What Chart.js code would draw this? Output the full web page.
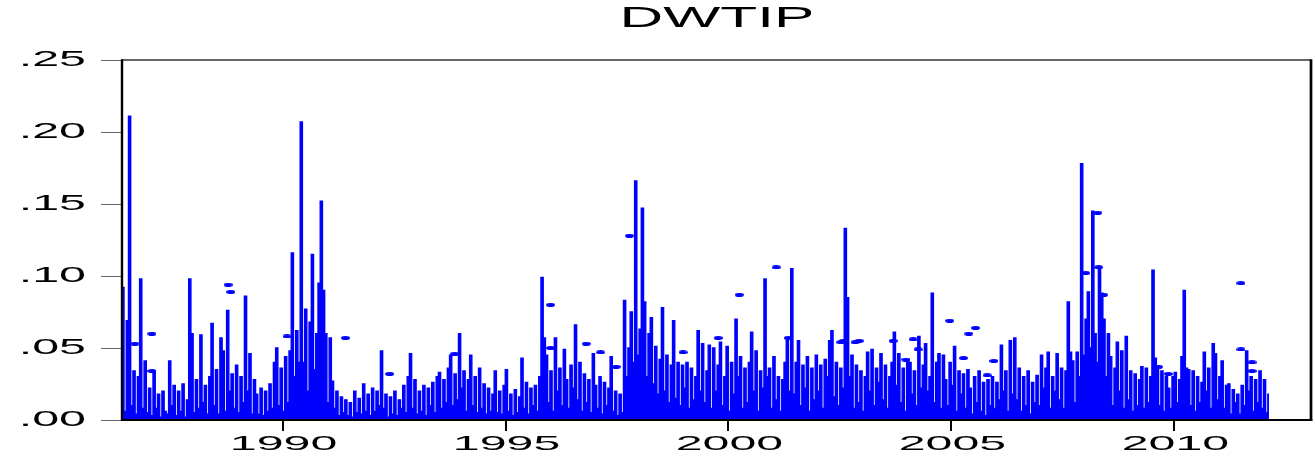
<!DOCTYPE html>
<html>
<head>
<meta charset="utf-8">
<title>DWTIP</title>
<script src="https://cdn.jsdelivr.net/npm/chart.js@4.4.1/dist/chart.umd.min.js"></script>
<style>
  html, body { margin: 0; padding: 0; background: #fff; }
  #wrap { width: 1315px; height: 462px; }
</style>
</head>
<body>
<div id="wrap"><canvas id="dwtip" width="1315" height="462"></canvas></div>
<script>
// DWTIP, one reading every 0.05 yr starting 1986.42, values in thousandths
const startYear = 1986.42;
const stepYears = 0.05;
const dwtip = [
  // 1986.42
  92, 6, 69, 211, 10, 34, 4, 30, 98, 8,     41, 5, 22, 3, 34, 8, 18, 2, 20, 6,
  // 1987.42
  4, 41, 10, 24, 3, 20, 6, 25, 2, 14,       98, 60, 5, 28, 8, 59, 12, 24, 4, 30,
  // 1988.42
  67, 10, 35, 4, 57, 48, 6, 76, 20, 32,     8, 38, 5, 30, 12, 86, 20, 46, 4, 28,
  // 1989.42
  18, 4, 22, 3, 20, 6, 25, 8, 40, 50,       10, 36, 6, 44, 12, 48, 116, 30, 62, 40,
  // 1990.42
  207, 40, 77, 20, 68, 115, 35, 60, 95, 152, 90, 60, 12, 57, 27, 8, 20, 3, 16, 5,
  // 1991.42
  14, 3, 12, 2, 20, 5, 15, 4, 25, 6,        18, 3, 22, 6, 20, 10, 48, 8, 18, 2,
  // 1992.42
  16, 4, 20, 3, 14, 8, 24, 5, 30, 46,       8, 28, 4, 20, 6, 24, 3, 22, 10, 26,
  // 1993.42
  5, 30, 33, 8, 28, 12, 36, 45, 10, 32,     14, 60, 22, 34, 6, 28, 45, 10, 30, 5,
  // 1994.42
  36, 8, 25, 4, 22, 6, 18, 34, 5, 20,       4, 24, 35, 6, 18, 3, 21, 5, 16, 43,
  // 1995.42
  8, 26, 4, 22, 10, 24, 6, 30, 99, 57,      45, 12, 34, 6, 57, 20, 36, 10, 49, 28,
  // 1996.42
  8, 38, 22, 66, 14, 40, 6, 32, 12, 28,     5, 46, 24, 8, 30, 4, 26, 10, 22, 44,
  // 1997.42
  6, 20, 3, 18, 5, 83, 30, 50, 75, 40,      166, 45, 63, 147, 82, 30, 60, 71, 25, 51,
  // 1998.42
  18, 42, 78, 20, 45, 12, 38, 69, 15, 40,   10, 38, 22, 40, 8, 36, 14, 30, 62, 20,
  // 1999.42
  53, 12, 34, 52, 8, 50, 20, 38, 54, 10,    30, 51, 6, 40, 18, 70, 30, 44, 8, 36,
  // 2000.42
  12, 40, 61, 20, 48, 6, 34, 22, 98, 30,    36, 8, 44, 14, 30, 6, 28, 40, 55, 20,
  // 2001.42
  105, 18, 40, 55, 10, 38, 22, 44, 6, 36,   14, 45, 20, 38, 8, 42, 30, 55, 62, 16,
  // 2002.42
  40, 10, 36, 22, 133, 85, 30, 45, 8, 38,   12, 34, 6, 30, 47, 20, 49, 10, 36, 26,
  // 2003.42
  46, 14, 38, 8, 30, 40, 61, 24, 46, 12,    36, 6, 42, 40, 18, 34, 10, 58, 22, 38,
  // 2004.42
  53, 20, 30, 88, 12, 40, 46, 8, 45, 28,    10, 40, 24, 51, 6, 34, 18, 32, 8, 35,
  // 2005.42
  22, 4, 30, 12, 34, 6, 26, 3, 28, 10,      30, 8, 26, 14, 52, 20, 34, 6, 55, 18,
  // 2006.42
  57, 14, 36, 6, 30, 10, 34, 4, 26, 12,     31, 10, 45, 22, 36, 47, 8, 30, 20, 46,
  // 2007.42
  14, 36, 8, 34, 82, 47, 41, 12, 47, 30,    178, 45, 70, 89, 50, 145, 60, 40, 105, 88,
  // 2008.42
  70, 30, 60, 44, 10, 36, 54, 20, 48, 8,    58, 14, 34, 6, 32, 10, 28, 37, 8, 36,
  // 2009.42
  12, 30, 104, 43, 35, 10, 34, 6, 30, 22,   8, 30, 33, 12, 28, 44, 90, 36, 35, 10,
  // 2010.42
  34, 6, 30, 12, 26, 47, 20, 36, 8, 53,     46, 14, 30, 41, 8, 24, 25, 4, 21, 12,
  // 2011.42
  18, 4, 24, 10, 48, 20, 30, 6, 28, 12,     34, 8, 28, 5, 18
];

// lone observations (no neighbours on either side), drawn as short dashes
const dashYears = [
  1986.69, 1987.07, 1987.07, 1988.78, 1988.84, 1990.10, 1991.41, 1992.40,
  1993.86, 1996.01, 1996.01, 1996.81, 1997.13, 1997.48, 1997.78, 1998.98,
  1999.77, 2000.24, 2001.07, 2001.34, 2002.52, 2002.58, 2002.84, 2002.93,
  2003.69, 2003.98, 2004.14, 2004.25, 2004.96, 2005.27, 2005.39, 2005.54,
  2005.80, 2005.95, 2008.01, 2008.28, 2008.30, 2008.41, 2009.64, 2009.86,
  2011.49, 2011.49, 2011.74, 2011.74
];
const dashValues = [
  0.053, 0.060, 0.034, 0.094, 0.089, 0.058, 0.057, 0.032,
  0.046, 0.080, 0.050, 0.053, 0.047, 0.037, 0.128, 0.047,
  0.057, 0.087, 0.106, 0.057, 0.054, 0.055, 0.054, 0.055,
  0.055, 0.042, 0.056, 0.049, 0.069, 0.043, 0.060, 0.064,
  0.031, 0.041, 0.102, 0.144, 0.106, 0.087, 0.037, 0.032,
  0.095, 0.049, 0.040, 0.034
];

const yearTicks = [1990, 1995, 2000, 2005, 2010];
const yTicks = [0, 0.05, 0.10, 0.15, 0.20, 0.25];
const yTickLabels = ['.00', '.05', '.10', '.15', '.20', '.25'];
const seriesTitle = 'DWTIP';

const BLUE = '#0000ff';
const FONT = '"Liberation Sans", Arial, Helvetica, sans-serif';

const linePoints = dwtip.map((v, i) => ({
  x: startYear + i * stepYears,
  y: v === null ? null : v / 1000
}));
const dashPoints = dashYears.map((yr, i) => ({ x: yr, y: dashValues[i] }));

// small flat oval used as the marker of a lone observation
const dashMark = document.createElement('canvas');
dashMark.width = 9;
dashMark.height = 4;
(function () {
  const dc = dashMark.getContext('2d');
  dc.fillStyle = BLUE;
  dc.beginPath();
  dc.ellipse(4.5, 2, 4.5, 2, 0, 0, Math.PI * 2);
  dc.fill();
})();

// wide, horizontally stretched lettering
function wideText(ctx, text, x, y, size, sx, align) {
  ctx.save();
  ctx.font = size + 'px ' + FONT;
  ctx.fillStyle = '#000';
  ctx.textAlign = align;
  ctx.textBaseline = 'alphabetic';
  ctx.translate(x, y);
  ctx.scale(sx, 1);
  ctx.fillText(text, 0, 0);
  ctx.restore();
}

const frameAndLabels = {
  id: 'frameAndLabels',
  afterDraw(chart) {
    const ctx = chart.ctx;
    const { left, right, top, bottom } = chart.chartArea;
    const xs = chart.scales.x;
    const ys = chart.scales.y;

    ctx.save();
    ctx.strokeStyle = '#333';
    ctx.lineWidth = 1.3;
    ctx.beginPath();
    ctx.moveTo(left, top);
    ctx.lineTo(right + 1, top);
    ctx.stroke();

    ctx.strokeStyle = '#000';
    ctx.lineWidth = 2.4;
    ctx.beginPath();
    ctx.moveTo(left, top - 0.7);
    ctx.lineTo(left, bottom + 1);
    ctx.stroke();

    ctx.lineWidth = 2.7;
    ctx.beginPath();
    ctx.moveTo(right + 1, top - 0.7);
    ctx.lineTo(right + 1, bottom + 1);
    ctx.stroke();

    ctx.lineWidth = 1.8;
    ctx.beginPath();
    ctx.moveTo(left - 1, bottom);
    ctx.lineTo(right + 2.3, bottom);
    ctx.stroke();
    ctx.restore();

    ys.ticks.forEach((t, i) => {
      const py = ys.getPixelForValue(t.value);
      wideText(ctx, yTickLabels[i], 86, py + 6, 22, 2.2, 'right');
    });
    xs.ticks.forEach(t => {
      const px = xs.getPixelForValue(t.value);
      wideText(ctx, String(t.value), px + 1, 450, 21, 2.3, 'center');
    });
    wideText(ctx, seriesTitle, (left + right) / 2 + 1, 27, 29.5, 2.05, 'center');
  }
};

new Chart(document.getElementById('dwtip'), {
  type: 'line',
  data: {
    datasets: [
      {
        data: linePoints,
        borderColor: BLUE,
        backgroundColor: BLUE,
        borderWidth: 1.4,
        stepped: 'middle',
        fill: 'origin',
        pointRadius: 0,
        spanGaps: false
      },
      {
        data: dashPoints,
        showLine: false,
        pointStyle: dashMark,
        pointRadius: 4,
        borderColor: BLUE,
        backgroundColor: BLUE
      }
    ]
  },
  options: {
    responsive: false,
    animation: false,
    events: [],
    layout: { padding: { top: 60, right: 3, left: 0, bottom: 0 } },
    scales: {
      x: {
        type: 'linear',
        min: 1986.40,
        max: 2013.04,
        afterBuildTicks: s => { s.ticks = yearTicks.map(v => ({ value: v })); },
        afterFit: s => { s.height = 42; },
        ticks: { display: false },
        grid: { drawOnChartArea: false, tickLength: 11, color: '#000', lineWidth: 2 },
        border: { display: false }
      },
      y: {
        min: 0,
        max: 0.25,
        afterBuildTicks: s => { s.ticks = yTicks.map(v => ({ value: v })); },
        afterFit: s => { s.width = 122; },
        ticks: { display: false },
        grid: { drawOnChartArea: false, tickLength: 21, color: '#666', lineWidth: 1 },
        border: { display: false }
      }
    },
    plugins: {
      legend: { display: false },
      tooltip: { enabled: false },
      title: { display: false },
      filler: { propagate: false }
    }
  },
  plugins: [frameAndLabels]
});
</script>
</body>
</html>
